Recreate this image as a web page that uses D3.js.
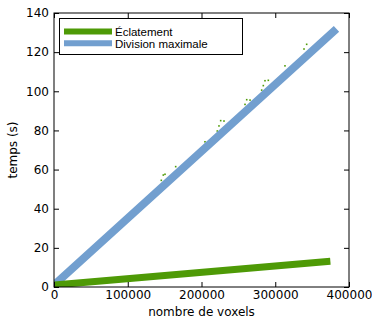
<!DOCTYPE html>
<html lang="fr">
<head>
  <meta charset="UTF-8" />
  <title>temps vs nombre de voxels</title>
  <script src="https://cdnjs.cloudflare.com/ajax/libs/d3/7.8.5/d3.min.js"></script>
  <style>
    body { margin: 0; background: #fff; }
    svg { display: block; font-family: "DejaVu Sans", sans-serif; }
  </style>
</head>
<body>
  <svg id="chart" width="372" height="320"></svg>

  <script>
    // series: start / end points of the two fitted lines
    const eclatementX = [0, 370000];
    const eclatementY = [1, 13];
    const divisionX = [0, 379000];
    const divisionY = [1, 130.5];

    // small measured points peeking above the blue line
    const pointsX = [145500, 148200, 150500, 165000, 204700, 221400, 223700, 226000, 230500,
      259000, 261300, 265800, 281600, 283800, 286100, 290600, 313200, 339000, 342600, 359700];
    const pointsY = [54.5, 57.2, 57.6, 61.5, 74.2, 79.7, 82.3, 85, 84.8,
      93.3, 95.7, 95.5, 100.6, 102.9, 105.4, 105.6, 113, 121.6, 124, 124];

    const xTicks = [0, 100000, 200000, 300000, 400000];
    const yTicks = [0, 20, 40, 60, 80, 100, 120, 140];
    const legendLabels = ["Éclatement", "Division maximale"];

    const green = "#4e9a06";
    const blue = "#729fcf";

    const svg = d3.select("#chart");
    const pLeft = 54, pRight = 349, pTop = 13, pBottom = 287;

    const x = d3.scaleLinear().domain([0, 400000]).range([pLeft, pRight]);
    const y = d3.scaleLinear().domain([0, 140]).range([pBottom, pTop]);

    svg.append("clipPath").attr("id", "plot")
      .append("rect")
      .attr("x", pLeft).attr("y", pTop)
      .attr("width", pRight - pLeft).attr("height", pBottom - pTop);

    const plot = svg.append("g").attr("clip-path", "url(#plot)");

    plot.selectAll("rect.pt")
      .data(d3.zip(pointsX, pointsY))
      .enter().append("rect")
      .attr("class", "pt")
      .attr("x", d => x(d[0]) - 0.8)
      .attr("y", d => y(d[1]) - 0.8)
      .attr("width", 1.6).attr("height", 1.6)
      .attr("fill", green);

    const line = d3.line().x(d => x(d[0])).y(d => y(d[1]));

    plot.append("path")
      .attr("d", line(d3.zip(divisionX, divisionY)))
      .attr("fill", "none")
      .attr("stroke", blue)
      .attr("stroke-width", 8)
      .attr("stroke-linecap", "square");

    plot.append("path")
      .attr("d", line(d3.zip(eclatementX, eclatementY)))
      .attr("fill", "none")
      .attr("stroke", green)
      .attr("stroke-width", 7)
      .attr("stroke-linecap", "square");

    // axes, ticks inside on all four sides
    const fontSize = 12;
    svg.append("g")
      .attr("transform", `translate(0,${pBottom})`)
      .call(d3.axisBottom(x).tickValues(xTicks).tickSizeInner(-5).tickSizeOuter(0).tickPadding(3).tickFormat(d3.format("d")))
      .call(g => g.select(".domain").remove());
    svg.append("g")
      .attr("transform", `translate(0,${pTop})`)
      .call(d3.axisTop(x).tickValues(xTicks).tickSizeInner(-5).tickSizeOuter(0).tickFormat(""))
      .call(g => g.select(".domain").remove());
    svg.append("g")
      .attr("transform", `translate(${pLeft},0)`)
      .call(d3.axisLeft(y).tickValues(yTicks).tickSizeInner(-5).tickSizeOuter(0).tickPadding(5))
      .call(g => g.select(".domain").remove());
    svg.append("g")
      .attr("transform", `translate(${pRight},0)`)
      .call(d3.axisRight(y).tickValues(yTicks).tickSizeInner(-5).tickSizeOuter(0).tickFormat(""))
      .call(g => g.select(".domain").remove());

    svg.selectAll(".tick text")
      .attr("font-family", "DejaVu Sans")
      .attr("font-size", fontSize)
      .attr("fill", "#000");
    svg.selectAll(".tick line").attr("stroke", "#000");

    svg.append("rect")
      .attr("x", pLeft).attr("y", pTop)
      .attr("width", pRight - pLeft).attr("height", pBottom - pTop)
      .attr("fill", "none").attr("stroke", "#000").attr("stroke-width", 1);

    svg.append("text")
      .attr("x", (pLeft + pRight) / 2).attr("y", 316)
      .attr("text-anchor", "middle")
      .attr("font-size", fontSize)
      .text("nombre de voxels");

    svg.append("text")
      .attr("transform", `translate(17,${(pTop + pBottom) / 2}) rotate(-90)`)
      .attr("text-anchor", "middle")
      .attr("font-size", fontSize)
      .text("temps (s)");

    // legend
    const legend = svg.append("g");
    legend.append("rect")
      .attr("x", 59.5).attr("y", 18.5)
      .attr("width", 183).attr("height", 36)
      .attr("fill", "#fff").attr("stroke", "#000");

    const legendColors = [green, blue];
    legendLabels.forEach((lab, i) => {
      const ly = 31.5 + i * 11.7;
      legend.append("line")
        .attr("x1", 64).attr("x2", 112)
        .attr("y1", ly).attr("y2", ly)
        .attr("stroke", legendColors[i]).attr("stroke-width", 6);
      legend.append("text")
        .attr("x", 115).attr("y", ly + 4.5)
        .attr("font-family", "Liberation Sans")
        .attr("font-size", 11.5)
        .text(lab);
    });
  </script>
</body>
</html>
